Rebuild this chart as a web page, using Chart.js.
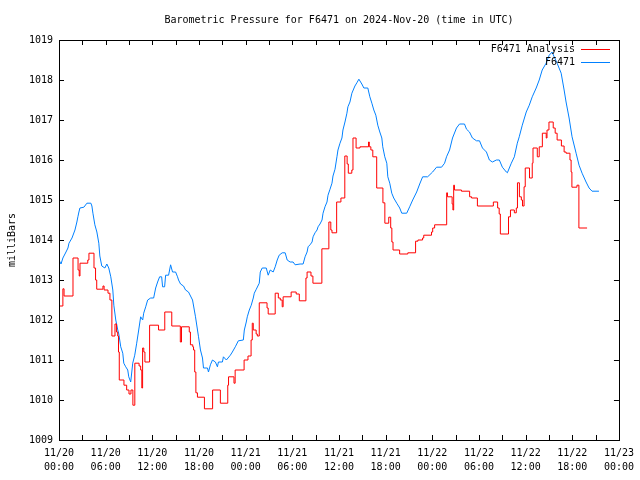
<!DOCTYPE html>
<html>
<head>
<meta charset="utf-8">
<script src="https://cdn.jsdelivr.net/npm/chart.js@4"></script>
<style>
  html, body { margin: 0; padding: 0; background: #fff; }
  #wrap { width: 640px; height: 480px; }
</style>
</head>
<body>
<div id="wrap"><canvas id="baro" width="640" height="480"></canvas></div>
<script>
const chartTitle = 'Barometric Pressure for F6471 on 2024-Nov-20 (time in UTC)';
const yTitle = 'milliBars';
const seriesNames = ['F6471 Analysis', 'F6471'];

// x tick labels, one per 6 hours
const xDayLabels = ['11/20', '11/20', '11/20', '11/20', '11/21', '11/21', '11/21', '11/21', '11/22', '11/22', '11/22', '11/22', '11/23'];
const xTimeLabels = ['00:00', '06:00', '12:00', '18:00', '00:00', '06:00', '12:00', '18:00', '00:00', '06:00', '12:00', '18:00', '00:00'];

// analysis (hours since 11/20 00:00, mbar) - step changes
const analysisHours = [0, 0.5, 0.65, 1.8, 2.45, 2.6, 2.7, 3.7, 3.85, 4.5, 4.7, 4.85, 5.65, 5.8, 6.3, 6.55, 6.8, 7.2, 7.4, 7.55, 7.65, 7.75,
  8.35, 8.7, 9.0, 9.25, 9.5, 9.75, 10.3, 10.5, 10.65, 10.75, 10.9, 11.05, 11.65, 12.8, 13.6, 14.5, 15.6, 15.75, 16.75, 16.9, 17.2, 17.3,
  17.45, 17.6, 17.8, 18.7, 19.75, 20.75, 21.7, 21.8, 22.5, 22.65, 23.8, 24.3, 24.7, 24.85, 24.98, 25.35, 25.5, 25.75, 26.75, 26.9, 27.8,
  28.2, 28.45, 28.7, 28.82, 29.85, 30.5, 30.9, 31.75, 31.9, 32.4, 32.65, 33.8, 34.7, 34.95, 35.1, 35.7, 36.25, 36.75, 37.05, 37.2, 37.65,
  37.8, 38.2, 38.7, 39.8, 39.9, 40.1, 40.35, 40.85, 41.65, 41.9, 42.4, 42.65, 42.8, 42.95, 43.8, 44.85, 45.85, 46.15, 46.75, 46.9, 47.9,
  48.05, 48.3, 49.85, 49.95, 50.55, 50.65, 50.75, 50.85, 51.75, 52.8, 53.05, 53.8, 55.85, 56.4, 56.6, 56.75, 57.8, 58.05, 58.55, 58.8,
  58.95, 59.2, 59.45, 59.6, 59.8, 59.95, 60.5, 60.85, 60.95, 61.5, 61.75, 62.15, 62.65, 62.75, 63.0, 63.55, 63.8, 64.05, 64.6, 64.95,
  65.2, 65.7, 65.85, 65.95, 66.6, 66.85, 67.9];
const analysisValues = [1012.35, 1012.78, 1012.6, 1013.55, 1013.25, 1013.1, 1013.42, 1013.5, 1013.67, 1013.3, 1013.0, 1012.77, 1012.85,
  1012.75, 1012.67, 1012.5, 1011.6, 1011.9, 1011.7, 1011.6, 1011.2, 1010.5, 1010.37, 1010.25, 1010.15, 1010.25, 1009.87, 1010.92, 1010.85,
  1010.75, 1010.3, 1011.3, 1011.2, 1010.95, 1011.87, 1011.75, 1012.2, 1011.85, 1011.45, 1011.83, 1011.7, 1011.38, 1011.33, 1011.25,
  1010.7, 1010.18, 1010.07, 1009.78, 1010.25, 1009.92, 1010.37, 1010.58, 1010.42, 1010.75, 1011.0, 1011.1, 1011.5, 1011.92, 1011.75,
  1011.65, 1011.6, 1012.43, 1012.3, 1012.15, 1012.67, 1012.55, 1012.5, 1012.33, 1012.58, 1012.7, 1012.65, 1012.48, 1013.05, 1013.2,
  1013.1, 1012.92, 1013.78, 1014.45, 1014.25, 1014.18, 1014.95, 1015.05, 1016.1, 1015.9, 1015.67, 1015.75, 1016.55, 1016.3, 1016.33,
  1016.45, 1016.33, 1016.25, 1016.08, 1015.3, 1014.93, 1014.42, 1014.57, 1014.3, 1013.95, 1013.75, 1013.65, 1013.68, 1013.97, 1014.0,
  1014.05, 1014.12, 1014.2, 1014.3, 1014.38, 1015.18, 1015.08, 1014.9, 1014.75, 1015.37, 1015.25, 1015.22, 1015.08, 1015.05, 1014.85,
  1014.95, 1014.8, 1014.65, 1014.15, 1014.58, 1014.75, 1014.68, 1014.8, 1015.43, 1015.08, 1015.0, 1014.85, 1015.33, 1015.8, 1015.55,
  1015.92, 1016.3, 1016.08, 1016.33, 1016.67, 1016.55, 1016.75, 1016.95, 1016.8, 1016.67, 1016.5, 1016.35, 1016.2, 1016.17, 1016.0,
  1015.7, 1015.32, 1015.37, 1014.3, 1014.3];

// station observations
const stationHours = [0, 0.26, 0.5, 0.9, 1.15, 1.28, 1.67, 2.05, 2.3, 2.43, 2.56, 2.69, 3.2, 3.59, 4.1, 4.23, 4.36, 4.61, 4.87, 5.12,
  5.25, 5.5, 5.9, 6.15, 6.4, 6.66, 6.92, 7.05, 7.3, 7.56, 7.69, 7.94, 8.2, 8.33, 8.58, 8.84, 8.97, 9.22, 9.48, 9.74, 9.99, 10.25, 10.5,
  10.76, 10.89, 11.15, 11.4, 11.79, 12.17, 12.43, 12.68, 12.94, 13.2, 13.32, 13.58, 13.71, 14.09, 14.35, 14.6, 14.99, 15.24, 15.37,
  15.63, 16.01, 16.27, 16.65, 17.17, 17.55, 17.94, 18.19, 18.45, 18.58, 19.09, 19.22, 19.47, 19.73, 20.11, 20.37, 20.5, 21.01, 21.14,
  21.52, 22.03, 22.29, 22.67, 23.06, 23.7, 23.83, 24.08, 24.21, 24.47, 24.72, 24.98, 25.11, 25.37, 25.75, 25.88, 26.13, 26.65, 26.9,
  27.16, 27.54, 27.8, 28.06, 28.31, 28.7, 29.08, 29.34, 29.72, 30.1, 30.36, 31.0, 31.39, 31.64, 31.9, 32.03, 32.28, 32.54, 32.67, 32.92,
  33.18, 33.31, 33.56, 33.82, 33.95, 34.2, 34.46, 34.59, 34.85, 35.1, 35.23, 35.49, 35.74, 35.87, 36.13, 36.38, 36.51, 36.77, 37.02,
  37.15, 37.41, 37.66, 38.05, 38.3, 38.56, 38.94, 39.2, 39.71, 39.97, 40.23, 40.48, 40.74, 40.99, 41.25, 41.51, 41.63, 41.89, 42.15,
  42.28, 42.53, 42.79, 43.04, 43.43, 43.81, 44.07, 44.71, 45.09, 45.48, 45.99, 46.38, 46.76, 47.4, 48.04, 48.55, 49.19, 49.58, 49.83,
  50.22, 50.6, 51.11, 51.5, 52.14, 52.4, 52.78, 53.16, 53.68, 54.07, 54.45, 54.96, 55.34, 55.73, 56.24, 56.62, 57.01, 57.52, 57.65,
  58.16, 58.55, 58.93, 59.18, 59.57, 60.08, 60.47, 60.85, 61.36, 61.75, 62.13, 62.64, 63.03, 63.41, 63.67, 64.05, 64.57, 64.95, 65.2,
  65.59, 65.97, 66.49, 66.87, 67.26, 67.77, 68.16, 68.54, 69.43];
const stationValues = [1013.5, 1013.4, 1013.55, 1013.7, 1013.8, 1013.92, 1014.05, 1014.25, 1014.45, 1014.58, 1014.7, 1014.8, 1014.82,
  1014.92, 1014.92, 1014.85, 1014.67, 1014.38, 1014.2, 1013.92, 1013.6, 1013.35, 1013.3, 1013.4, 1013.3, 1013.08, 1012.75, 1012.37,
  1012.0, 1011.75, 1011.65, 1011.33, 1011.17, 1010.92, 1010.83, 1010.75, 1010.58, 1010.45, 1010.92, 1011.12, 1011.42, 1011.75, 1012.08,
  1012.0, 1012.17, 1012.33, 1012.5, 1012.55, 1012.55, 1012.8, 1012.95, 1013.08, 1013.08, 1012.83, 1012.83, 1013.12, 1013.12, 1013.38,
  1013.2, 1013.2, 1013.08, 1013.0, 1012.9, 1012.85, 1012.75, 1012.7, 1012.5, 1012.08, 1011.58, 1011.25, 1011.05, 1010.8, 1010.8,
  1010.7, 1010.88, 1011.0, 1010.95, 1010.83, 1010.95, 1010.95, 1011.08, 1011.0, 1011.12, 1011.2, 1011.33, 1011.48, 1011.5, 1011.75,
  1011.95, 1012.08, 1012.25, 1012.37, 1012.55, 1012.67, 1012.77, 1012.92, 1013.2, 1013.3, 1013.3, 1013.12, 1013.25, 1013.2, 1013.33,
  1013.5, 1013.62, 1013.68, 1013.68, 1013.5, 1013.45, 1013.45, 1013.38, 1013.4, 1013.4, 1013.58, 1013.7, 1013.83, 1013.88, 1013.95,
  1014.08, 1014.18, 1014.25, 1014.33, 1014.4, 1014.5, 1014.67, 1014.83, 1014.95, 1015.12, 1015.27, 1015.42, 1015.6, 1015.77, 1016.08,
  1016.25, 1016.42, 1016.55, 1016.75, 1016.95, 1017.17, 1017.33, 1017.45, 1017.67, 1017.85, 1017.93, 1018.02, 1017.9, 1017.8, 1017.8,
  1017.58, 1017.42, 1017.25, 1017.12, 1016.87, 1016.7, 1016.55, 1016.33, 1016.08, 1015.92, 1015.58, 1015.42, 1015.17, 1015.05, 1014.92,
  1014.8, 1014.67, 1014.67, 1014.83, 1015.0, 1015.2, 1015.4, 1015.58, 1015.58, 1015.7, 1015.82, 1015.82, 1015.92, 1016.08, 1016.25,
  1016.55, 1016.8, 1016.9, 1016.9, 1016.77, 1016.7, 1016.55, 1016.48, 1016.48, 1016.3, 1016.2, 1016.0, 1015.95, 1016.0, 1016.0, 1015.82,
  1015.7, 1015.68, 1015.92, 1016.08, 1016.42, 1016.58, 1016.87, 1017.2, 1017.37, 1017.58, 1017.8, 1018.0, 1018.25, 1018.42, 1018.62,
  1018.7, 1018.58, 1018.42, 1018.17, 1017.75, 1017.45, 1017.05, 1016.58, 1016.17, 1015.87, 1015.67, 1015.45, 1015.3, 1015.22, 1015.22];

const FONT = '"DejaVu Sans Mono", "Liberation Mono", monospace';

function toPoints(xs, ys) {
  return xs.map((x, i) => ({ x: x, y: ys[i] }));
}

// gnuplot style frame, inward ticks, title, y label, legend
const gnuFrame = {
  id: 'gnuFrame',
  afterDraw(chart) {
    const c = chart.ctx;
    const a = chart.chartArea;
    const xs = chart.scales.x;
    const ys = chart.scales.y;
    c.save();
    c.strokeStyle = '#000';
    c.lineWidth = 1;
    c.strokeRect(Math.round(a.left) + 0.5, Math.round(a.top) + 0.5, Math.round(a.right - a.left), Math.round(a.bottom - a.top));

    const tl = 5;
    c.beginPath();
    for (let h = 0; h <= 72; h += 3) {
      const px = Math.round(xs.getPixelForValue(h)) + 0.5;
      c.moveTo(px, a.bottom); c.lineTo(px, a.bottom - tl);
      c.moveTo(px, a.top); c.lineTo(px, a.top + tl);
    }
    for (let v = 1009; v <= 1019; v++) {
      const py = Math.round(ys.getPixelForValue(v)) + 0.5;
      c.moveTo(a.left, py); c.lineTo(a.left + tl, py);
      c.moveTo(a.right, py); c.lineTo(a.right - tl, py);
    }
    c.stroke();

    c.fillStyle = '#000';
    c.font = '10px ' + FONT;
    c.textAlign = 'center';
    c.textBaseline = 'middle';
    c.fillText(chartTitle, (a.left + a.right) / 2, 20);

    c.save();
    c.translate(12, (a.top + a.bottom) / 2);
    c.rotate(-Math.PI / 2);
    c.fillText(yTitle, 0, 0);
    c.restore();

    // legend
    const colors = chart.data.datasets.map(d => d.borderColor);
    c.textAlign = 'right';
    seriesNames.forEach((name, i) => {
      const y = 49 + i * 13;
      c.fillStyle = '#000';
      c.fillText(name, 575, y);
      c.strokeStyle = colors[i];
      c.beginPath();
      c.moveTo(581, y + 0.5); c.lineTo(610, y + 0.5);
      c.stroke();
    });
    c.restore();
  }
};

const baroChart = new Chart(document.getElementById('baro').getContext('2d'), {
  type: 'line',
  data: {
    datasets: [{
      label: seriesNames[0],
      data: toPoints(analysisHours, analysisValues),
      borderColor: '#ff0000',
      borderWidth: 1,
      stepped: true,
      pointRadius: 0,
      fill: false
    }, {
      label: seriesNames[1],
      data: toPoints(stationHours, stationValues),
      borderColor: '#0080ff',
      borderWidth: 1,
      tension: 0,
      pointRadius: 0,
      fill: false
    }]
  },
  options: {
    responsive: false,
    animation: false,
    devicePixelRatio: 1,
    layout: { padding: { top: 40, right: 19, bottom: 0, left: 0 } },
    plugins: {
      legend: { display: false },
      title: { display: false },
      tooltip: { enabled: false }
    },
    scales: {
      x: {
        type: 'linear',
        min: 0,
        max: 72,
        grid: { display: false, drawTicks: false },
        border: { display: false },
        ticks: {
          stepSize: 6,
          autoSkip: false,
          maxRotation: 0,
          padding: 6,
          color: '#000',
          font: { family: FONT, size: 10, lineHeight: 1.4 },
          callback: function(v) {
            const i = Math.round(v / 6);
            return [xDayLabels[i], xTimeLabels[i]];
          }
        },
        afterFit: function(s) { s.height = 40; }
      },
      y: {
        min: 1009,
        max: 1019,
        grid: { display: false, drawTicks: false },
        border: { display: false },
        ticks: {
          stepSize: 1,
          padding: 6,
          color: '#000',
          font: { family: FONT, size: 10 },
          callback: v => String(v)
        },
        afterFit: function(s) { s.width = 59; }
      }
    }
  },
  plugins: [gnuFrame]
});
</script>
</body>
</html>
